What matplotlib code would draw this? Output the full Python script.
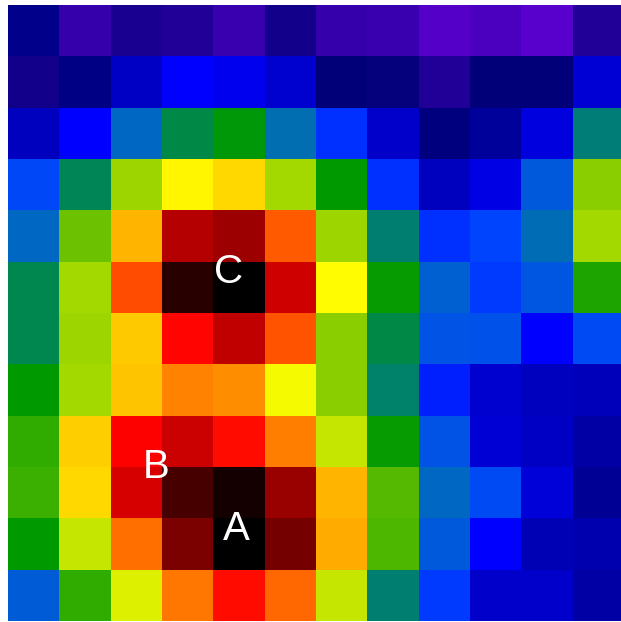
from matplotlib.colors import LinearSegmentedColormap
import matplotlib.pyplot as plt
import numpy as np

# colour stops of the map (value 0..100)
stops = [0, 10, 20, 25, 30, 35, 40, 50, 55, 65, 72, 85, 100]
stop_colors = ['#5800cc', '#000078', '#0000ff', '#0044ff', '#006ac0', '#008070',
               '#009900', '#99d400', '#ffff00', '#ff8000', '#ff0000', '#800000', '#000000']

# cell values, top row first
values = np.array([
    [11.4, 4.2, 7.3, 6.6, 3.6, 8.2, 4.2, 3.8, 0.5, 1.8, 0.0, 6.4],
    [8.2, 11.2, 15.9, 20.0, 18.9, 16.5, 10.0, 9.5, 6.4, 10.0, 10.0, 17.1],
    [15.3, 20.0, 30.0, 37.0, 39.5, 31.0, 23.5, 16.2, 10.6, 12.7, 17.7, 34.5],
    [25.5, 36.0, 50.0, 55.5, 58.0, 50.5, 40.0, 23.7, 15.3, 18.1, 28.0, 49.0],
    [30.0, 47.0, 60.6, 79.3, 81.7, 66.8, 50.0, 35.0, 23.7, 25.2, 30.5, 50.7],
    [36.5, 50.5, 67.6, 95.3, 100.0, 76.8, 55.3, 40.5, 28.8, 24.5, 27.5, 42.0],
    [36.5, 50.0, 59.3, 71.6, 78.5, 67.2, 49.0, 37.0, 27.0, 26.8, 20.0, 26.0],
    [40.0, 50.7, 59.6, 64.6, 64.0, 54.5, 49.2, 35.5, 22.5, 16.5, 15.3, 15.0],
    [43.0, 58.7, 72.0, 77.2, 71.2, 65.0, 52.0, 40.5, 27.0, 17.1, 15.9, 13.6],
    [44.0, 58.0, 76.0, 91.6, 97.5, 82.2, 60.8, 45.7, 30.0, 26.0, 17.4, 12.4],
    [40.0, 52.0, 65.9, 85.5, 100.0, 86.0, 61.7, 45.0, 28.0, 20.0, 14.7, 14.1],
    [28.5, 43.0, 53.5, 65.4, 71.2, 66.2, 52.3, 35.0, 24.5, 16.2, 16.2, 13.3],
])

labels = ['A', 'B', 'C']
label_x = [3.94, 2.38, 3.79]
label_y = [9.70, 8.50, 4.70]

cmap = LinearSegmentedColormap.from_list(
    'heat', list(zip(np.array(stops) / 100.0, stop_colors)))

fig = plt.figure(figsize=(6.21, 6.22), dpi=100)
ax = fig.add_axes([8 / 621, 1 / 622, 616 / 621, 616 / 622])
ax.imshow(values, cmap=cmap, vmin=0, vmax=100, interpolation='nearest', aspect='auto')
for t, x, y in zip(labels, label_x, label_y):
    ax.text(x, y, t, color='white', fontsize=29, family='Liberation Sans',
            ha='center', va='center')
ax.axis('off')

fig.savefig('out.png', dpi=100)
